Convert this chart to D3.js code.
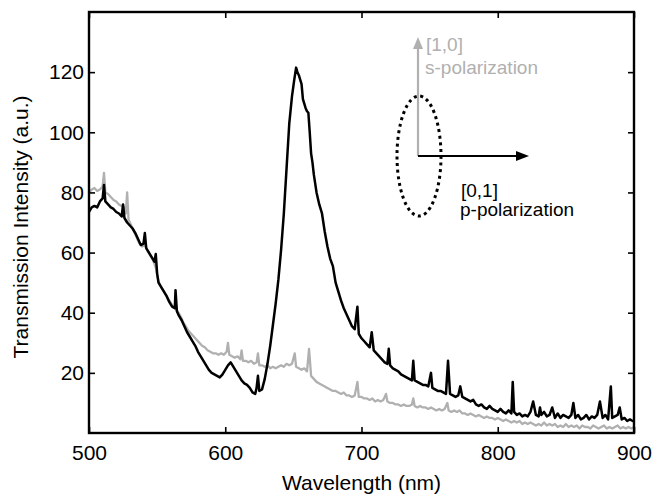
<!DOCTYPE html>
<html><head><meta charset="utf-8">
<script src="https://cdn.jsdelivr.net/npm/d3@7"></script>
<style>
html,body{margin:0;padding:0;background:#fff;}
svg{display:block;font-family:"Liberation Sans",Arial,Helvetica,sans-serif;}
</style></head>
<body>
<svg id="chart" width="652" height="495"></svg>
<script>
// p-polarization (black) spectrum
const pWavelength = [500,502,504,506,508,510,511,512,514,516,518,520,522,524,525,526,528,530,532,534,536,538,540,541,542,544,546,548,549,550,551,553,555,557,559,561,563,563.5,564.5,566,568,570,572,574,576,578,580,582,584,586,588,590,592,594,596,598,600,602,604,606,608,610,612,614,616,618,620,622,623,624,625,627,629,631,633,635,637,639,641,643,645,647,649,650.5,652,653,654,655,656,657,658,659,660,661,662,663,664,665,667,669,671,673,675,677,679,681,683,685,687,689,691,693,695,697,698,700,702,704,706,707.5,709,711,713,715,717,719,720,721,723,725,727,729,731,733,735,737,738,739,741,743,745,747,749,751,752,754,756,758,760,762,763.5,765,767,769,771,772.5,774,776,778,780,782,784,786,788,790,792,794,796,798,800,802,804,806,808,810,811,812,814,816,818,820,822,824,826,828,830,831,832,834,836,838,840,842,844,846,848,850,852,854,855.5,857,859,861,863,865,867,869,871,873,875,877,879,881,883,884,886,888,889.5,891,893,895,897,899,900];
const pIntensity = [73.5,75,75.5,75,77,78,82.5,77,76,75,74.5,73.5,73,72,76,71.5,70,69,68,66.5,64.5,62.5,63,66.5,61.5,60,58.5,57,59.5,53,50,48.5,47,45.5,43.5,42,41.5,47.5,40.5,39,37.5,35.5,33.5,32,30.5,29,27,25.5,24,22.5,21,20,19.5,19,18.5,19.5,21,22.5,23.5,22,20.5,19,17.5,16.5,16,15,13.5,13,15,19,14,14.5,18,23,29,36,43,51,61,73,88,103,112,117,121.5,120,119,117.5,116,111,109.5,108,107,106.5,100,93,90,86,80,76,73,67,62,58,55.5,50,47,44,41.5,39.5,37.5,35.5,34.5,42,33,31.5,30.5,29.5,28.5,33.5,27.5,26.5,25.5,24.5,23.5,23,28,22.5,21.5,21,20.5,19.5,19,18.5,18,17.5,24,17.5,17,16.5,16,16,15.5,20,15,14.5,14,14,13.5,13,24,13,12.5,12,12.5,15.5,12,11.5,11,10.5,11,9.5,9,9.5,8.5,8,9,8,7.5,7,8,7,6.5,7.5,6.5,17,7,6,6.5,5.5,6,5.5,7,10.5,6,5.5,8.5,6,7,5.5,6,8.5,5,6.5,5,6,5.5,5,6,10,5,6,4.5,5,6,4.5,5.5,5,6,10.5,5,6,4.5,15.5,5,5.5,6,8.5,4.5,5,4,4.5,4,4];

// s-polarization (grey) spectrum
const sWavelength = [500,502,504,506,508,510,511,512,514,516,518,520,522,524,526,527,528,529,531,533,535,537,539,541,543,545,547,549,551,553,555,557,559,561,563,565,567,569,571,573,575,577,579,581,583,585,587,589,591,593,595,597,599,601,602,603,605,607,609,611,612,613,615,617,619,621,623,624,625,627,629,631,633,635,637,639,641,643,645,647,649,651,652,654,656,658,660,661.5,663,665,667,669,671,673,675,677,679,681,683,685,687,689,691,693,695,697,698,700,702,704,706,708,710,712,714,716,718,719,721,723,725,727,729,731,733,735,737,738,739,741,743,745,747,749,751,753,755,757,759,761,763,764,766,768,770,772,774,776,778,780,782,784,786,788,790,792,794,796,798,800,802,804,806,808,810,812,814,816,818,820,822,824,826,828,830,832,834,836,838,840,842,844,846,848,850,852,854,856,858,860,862,864,866,868,870,872,874,876,878,880,882,884,886,888,890,892,894,896,898,900];
const sIntensity = [80,81,81.5,80.5,81,82,86.5,80,79.5,78.5,77.5,77,76,75.5,75,73,80,71,69,67,65,63,62,62.5,60.5,59,57.5,55,50.5,48.5,47,45.5,44,42.5,41.5,40.5,39,37,35.5,34,33,32,31,30,29,28.5,27.5,27,26.5,26.5,26,26.5,26,27,30,26,25.5,25,25.5,24.5,27.5,24,24,23.5,24,23,23.5,26.5,22.5,22.5,22,22.5,21.5,22,21.5,22,22.5,22,23,22.5,23,26.5,22,21.5,21,21.5,20.5,28,19,18,17,16.5,16,15.5,15,14.5,14,14,13.5,13,13.5,12.5,12.5,12,12.5,17,12,12,11.5,11.5,11,11.5,10.5,11,10.5,11,13,10.5,10,10,9.5,9.5,9,9.5,9,9,9.5,11.5,9,8.5,9,8.5,8.5,8,8.5,8,7.5,8,7.5,8,10,7.5,7,7.5,7,7.5,6.5,6.5,6,6.5,6,5.5,6,5.5,5,5.5,5,5,4.5,5,4.5,4,4.5,4,3.5,4,3.5,4,3,3.5,3,3.5,3,2.5,3,2.5,3.5,2.5,3,2.5,3,2,2.5,2,3,2,2.5,2,2.5,1.5,2.5,2,2,1.5,2.5,2,1.5,2,2.5,1.5,2,1.5,2,2.5,1.5,2,1.5,2,1.5,2];

const xTicks = [500,600,700,800,900];
const yTicks = [20,40,60,80,100,120];
const xDomain = [500,900];
const yDomain = [0,140];

const svg = d3.select("#chart");
const L = 89, R = 634, T = 12, B = 433;
const x = d3.scaleLinear().domain(xDomain).range([L,R]);
const y = d3.scaleLinear().domain(yDomain).range([B,T]);

svg.append("defs").append("clipPath").attr("id","clip")
  .append("rect").attr("x",L).attr("y",T).attr("width",R-L).attr("height",B-T);

const line = d3.line().x(d=>x(d[0])).y(d=>y(d[1]));
const sData = sWavelength.map((w,i)=>[w,sIntensity[i]]);
const pData = pWavelength.map((w,i)=>[w,pIntensity[i]]);

const g = svg.append("g").attr("clip-path","url(#clip)");
g.append("path").datum(sData).attr("d",line).attr("fill","none")
  .attr("stroke","#b0b0b0").attr("stroke-width",2.3).attr("stroke-linejoin","round");
g.append("path").datum(pData).attr("d",line).attr("fill","none")
  .attr("stroke","#000").attr("stroke-width",2.5).attr("stroke-linejoin","round");

// axes (ticks inward, on all four sides)
const fs = 21;
const axB = svg.append("g").attr("transform",`translate(0,${B})`)
  .call(d3.axisBottom(x).tickValues(xTicks).tickSizeInner(-6).tickSizeOuter(0).tickPadding(12));
const axT = svg.append("g").attr("transform",`translate(0,${T})`)
  .call(d3.axisTop(x).tickValues(xTicks).tickSizeInner(-6).tickSizeOuter(0).tickFormat(""));
const axL = svg.append("g").attr("transform",`translate(${L},0)`)
  .call(d3.axisLeft(y).tickValues(yTicks).tickSizeInner(-6).tickSizeOuter(0).tickPadding(5));
const axR = svg.append("g").attr("transform",`translate(${R},0)`)
  .call(d3.axisRight(y).tickValues(yTicks).tickSizeInner(-6).tickSizeOuter(0).tickFormat(""));
[axB,axT,axL,axR].forEach(a=>{
  a.select(".domain").remove();
  a.selectAll(".tick line").attr("stroke","#000").attr("stroke-width",1.6);
  a.selectAll(".tick text").attr("fill","#000").style("font-size",fs+"px")
   .style("font-family",'"Liberation Sans",Arial,Helvetica,sans-serif');
});
axB.selectAll(".tick text").attr("dy","0.71em").attr("y",12);
axL.selectAll(".tick text").attr("x",-5);

// frame
svg.append("rect").attr("x",L).attr("y",T).attr("width",R-L).attr("height",B-T)
  .attr("fill","none").attr("stroke","#000").attr("stroke-width",2.4);

// axis labels
svg.append("text").attr("x",(L+R)/2).attr("y",490).attr("text-anchor","middle")
  .style("font-size",fs+"px").text("Wavelength (nm)");
svg.append("text").attr("transform",`translate(28,${227}) rotate(-90)`).attr("text-anchor","middle")
  .style("font-size",fs+"px").text("Transmission Intensity (a.u.)");

// polarization annotation
const ox = 418, oy = 156;
const grey = "#b0b0b0";
svg.append("line").attr("x1",ox).attr("y1",oy).attr("x2",ox).attr("y2",46)
  .attr("stroke",grey).attr("stroke-width",2.2);
svg.append("path").attr("d",`M${ox},37 L${ox-5},49 L${ox+5},49 Z`).attr("fill",grey);
svg.append("line").attr("x1",ox).attr("y1",oy).attr("x2",518).attr("y2",oy)
  .attr("stroke","#000").attr("stroke-width",2.2);
svg.append("path").attr("d",`M529,${oy} L516,${oy-5} L516,${oy+5} Z`).attr("fill","#000");
svg.append("ellipse").attr("cx",419).attr("cy",oy).attr("rx",22).attr("ry",60)
  .attr("fill","none").attr("stroke","#000").attr("stroke-width",3).attr("stroke-dasharray","3 3.6");

const afs = 19;
svg.append("text").attr("x",426).attr("y",51).style("font-size",afs+"px").attr("fill",grey).text("[1,0]");
svg.append("text").attr("x",425).attr("y",74).style("font-size",afs+"px").attr("fill",grey).text("s-polarization");
svg.append("text").attr("x",461).attr("y",197).style("font-size",afs+"px").attr("fill","#000").text("[0,1]");
svg.append("text").attr("x",460).attr("y",216).style("font-size",afs+"px").attr("fill","#000").text("p-polarization");
</script>
</body></html>
